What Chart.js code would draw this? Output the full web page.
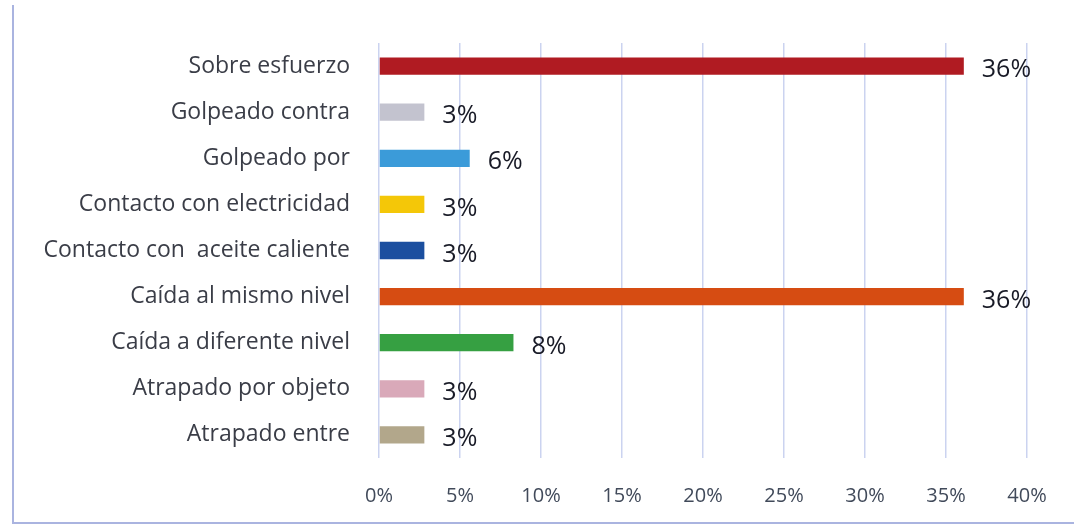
<!DOCTYPE html>
<html>
<head>
<meta charset="utf-8">
<script src="https://cdn.jsdelivr.net/npm/chart.js@4.4.1/dist/chart.umd.min.js"></script>
<style>
  html, body { margin: 0; padding: 0; background: #ffffff; }
  #wrap { width: 1074px; height: 528px; position: relative; }
</style>
</head>
<body>
<div id="wrap"><canvas id="c" width="1074" height="528"></canvas></div>
<script>
const categories = [
  "Sobre esfuerzo",
  "Golpeado contra",
  "Golpeado por",
  "Contacto con electricidad",
  "Contacto con  aceite caliente",
  "Caída al mismo nivel",
  "Caída a diferente nivel",
  "Atrapado por objeto",
  "Atrapado entre"
];
const values = [36.1, 2.8, 5.6, 2.8, 2.8, 36.1, 8.3, 2.8, 2.8];
const valueLabels = ["36%", "3%", "6%", "3%", "3%", "36%", "8%", "3%", "3%"];
const barColors = ["#b01b22", "#c3c3cf", "#3b9bd9", "#f4c708", "#1b4f9f", "#d64c12", "#36a042", "#d9a9b9", "#b2a78b"];
const xTicks = [0, 5, 10, 15, 20, 25, 30, 35, 40];

const valueLabelPlugin = {
  id: 'valueLabels',
  afterDatasetsDraw(chart) {
    const ctx = chart.ctx;
    const meta = chart.getDatasetMeta(0);
    ctx.save();
    ctx.font = '500 25px "Open Sans", Lato, sans-serif';
    ctx.fillStyle = '#181a26';
    ctx.textAlign = 'left';
    ctx.textBaseline = 'middle';
    meta.data.forEach((bar, i) => {
      ctx.fillText(valueLabels[i], bar.x + 18, bar.y + 4);
    });
    ctx.restore();
  }
};

const framePlugin = {
  id: 'frame',
  afterDraw(chart) {
    const ctx = chart.ctx;
    ctx.save();
    ctx.strokeStyle = '#aab4e0';
    ctx.lineWidth = 2;
    ctx.beginPath();
    ctx.moveTo(13, 5);
    ctx.lineTo(13, 523);
    ctx.lineTo(1074, 523);
    ctx.stroke();
    ctx.restore();
  }
};

new Chart(document.getElementById('c'), {
  type: 'bar',
  data: {
    labels: categories,
    datasets: [{
      data: values,
      backgroundColor: barColors,
      borderWidth: 0,
      barPercentage: 0.75,
      categoryPercentage: 0.5
    }]
  },
  options: {
    indexAxis: 'y',
    responsive: false,
    animation: false,
    devicePixelRatio: 1,
    layout: { padding: { top: 43, right: 47, bottom: 0, left: 0 } },
    plugins: { legend: { display: false }, tooltip: { enabled: false } },
    scales: {
      x: {
        min: 0,
        max: 40,
        afterBuildTicks(scale) { scale.ticks = xTicks.map(v => ({ value: v })); },
        afterFit(scale) { scale.height = 70; },
        grid: { color: '#cbd3f0', lineWidth: 1.5, drawTicks: false },
        border: { display: false },
        ticks: {
          padding: 26,
          color: '#414a5a',
          font: { family: '"Open Sans", Lato, sans-serif', size: 20 },
          callback: (v) => v + '%'
        }
      },
      y: {
        afterFit(scale) { scale.width = 379; },
        grid: { display: false, drawTicks: false },
        border: { display: false },
        ticks: {
          padding: 29,
          color: '#3a3d47',
          font: { family: '"Open Sans", Lato, sans-serif', size: 23 }
        }
      }
    }
  },
  plugins: [valueLabelPlugin, framePlugin]
});
</script>
</body>
</html>
